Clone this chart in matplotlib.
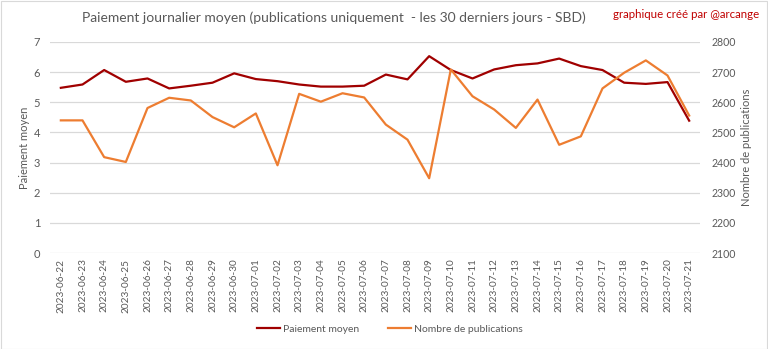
import matplotlib
matplotlib.use("Agg")
import matplotlib.pyplot as plt
from matplotlib.lines import Line2D
from matplotlib.patches import Rectangle

plt.rcParams['font.family'] = ['Lato', 'DejaVu Sans']

dates = ["2023-06-22", "2023-06-23", "2023-06-24", "2023-06-25", "2023-06-26", "2023-06-27",
         "2023-06-28", "2023-06-29", "2023-06-30", "2023-07-01", "2023-07-02", "2023-07-03",
         "2023-07-04", "2023-07-05", "2023-07-06", "2023-07-07", "2023-07-08", "2023-07-09",
         "2023-07-10", "2023-07-11", "2023-07-12", "2023-07-13", "2023-07-14", "2023-07-15",
         "2023-07-16", "2023-07-17", "2023-07-18", "2023-07-19", "2023-07-20", "2023-07-21"]
paiement = [5.48, 5.59, 6.07, 5.68, 5.79, 5.46, 5.55, 5.65, 5.96, 5.77,
            5.70, 5.59, 5.52, 5.52, 5.55, 5.92, 5.76, 6.53, 6.07, 5.79,
            6.09, 6.23, 6.29, 6.45, 6.20, 6.07, 5.65, 5.61, 5.67, 4.39]
publications = [2540, 2540, 2418, 2402, 2581, 2615, 2606, 2551, 2517, 2563,
                2391, 2628, 2602, 2630, 2616, 2526, 2476, 2348, 2709, 2620,
                2576, 2515, 2609, 2459, 2487, 2646, 2698, 2739, 2689, 2556]

W, H = 768, 349
fig = plt.figure(figsize=(W / 100, H / 100), dpi=100)
ax = fig.add_axes([50 / W, 1 - 253 / H, 650 / W, (253 - 42) / H])
ax2 = ax.twinx()

x = list(range(len(dates)))
red = "#A00000"
orange = "#ED7D31"
grey = "#595959"

ax.plot(x, paiement, color=red, lw=1.6, zorder=3)
ax2.plot(x, publications, color=orange, lw=1.6, zorder=3)

ax.set_xlim(-0.5, len(dates) - 0.5)
ax.set_ylim(0, 7)
ax.set_yticks(range(0, 8))
ax2.set_ylim(2100, 2800)
ax2.set_yticks(range(2100, 2801, 100))
ax.grid(axis='y', color="#D9D9D9", lw=0.9)
ax.set_axisbelow(True)
ax.set_xticks(x)
ax.set_xticklabels(dates, rotation=90, fontsize=7.2, color=grey)
ax.tick_params(axis='x', length=0, pad=4)
ax.tick_params(axis='y', length=0, labelsize=8, labelcolor=grey, pad=7)
ax2.tick_params(axis='y', length=0, labelsize=7.6, labelcolor=grey, pad=8)
for a in (ax, ax2):
    for s in a.spines.values():
        s.set_visible(False)

ax.set_ylabel("Paiement moyen", fontsize=8, color=grey)
ax2.set_ylabel("Nombre de publications", fontsize=8, color=grey)
ax.yaxis.set_label_coords((30 - 50) / 650, 0.5)
ax2.yaxis.set_label_coords((741 - 50) / 650, 0.5)

fig.text(334 / W, 1 - 18 / H, "Paiement journalier moyen (publications uniquement  - les 30 derniers jours - SBD)",
         ha='center', va='center', fontsize=10, color=grey)
fig.text(759 / W, 1 - 14 / H, "graphique créé par @arcange", ha='right', va='center',
         fontsize=8.3, color="#C00000")

handles = [Line2D([], [], color=red, lw=1.6), Line2D([], [], color=orange, lw=1.6)]
fig.legend(handles, ["Paiement moyen", "Nombre de publications"], loc='center',
           bbox_to_anchor=(390 / W, 1 - 329 / H), ncol=2, frameon=False, fontsize=7.5,
           labelcolor=grey, handlelength=2.2, handletextpad=0.3, columnspacing=2.8)

fig.patches.append(Rectangle((0.5 / W, 0.5 / H), 1 - 1.5 / W, 1 - 1.5 / H, transform=fig.transFigure,
                             fill=False, edgecolor="#D9D9D9", lw=0.8))

fig.savefig("out.png", dpi=100)
